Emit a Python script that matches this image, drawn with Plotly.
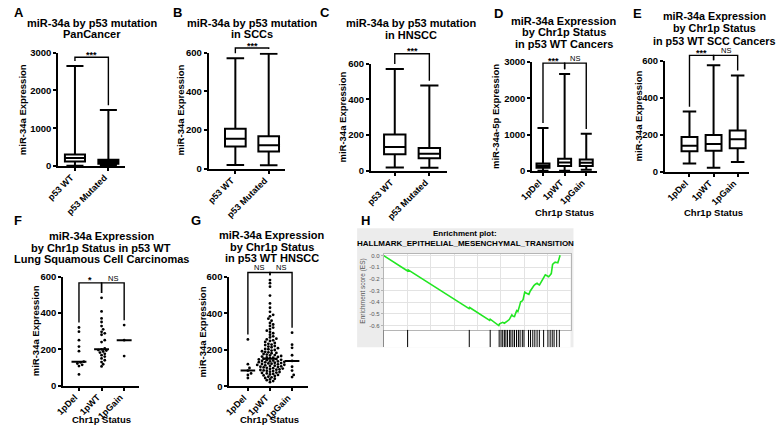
import numpy as np
import plotly.graph_objects as go

W, H = 778, 438
FONT = "Liberation Sans, Arial, Helvetica, sans-serif"

# ---------------- data ----------------
p53_groups = ["p53 WT", "p53 Mutated"]
chr1p_groups = ["1pDel", "1pWT", "1pGain"]

# box summaries: min, Q1, median, Q3, max
a_min = [5, 3]
a_q1 = [115, 55]
a_median = [210, 110]
a_q3 = [300, 165]
a_max = [2650, 1480]

b_min = [20, 18]
b_q1 = [115, 90]
b_median = [155, 122]
b_q3 = [207, 168]
b_max = [572, 595]

c_min = [18, 17]
c_q1 = [93, 70]
c_median = [133, 95]
c_q3 = [203, 127]
c_max = [570, 477]

d_min = [5, 5, 35]
d_q1 = [90, 140, 140]
d_median = [143, 232, 230]
d_q3 = [205, 340, 320]
d_max = [1185, 2670, 1025]

e_min = [44, 22, 52]
e_q1 = [110, 113, 127]
e_median = [140, 150, 175]
e_q3 = [188, 198, 223]
e_max = [325, 575, 520]

# individual samples (F: lung SCC, G: HNSCC)
f_1pdel = [320, 297, 250, 215, 190, 132, 128, 122, 115, 108, 62]
f_1pwt = [483, 408, 370, 350, 328, 310, 296, 288, 280, 250, 240, 205, 200,
          196, 193, 188, 182, 175, 168, 160, 150, 140, 130, 118, 106]
f_1pgain = [333, 250, 163]

g_1pdel = [257, 121, 100, 86, 70, 62, 45]
g_1pwt = [583, 566, 547, 498, 455, 431, 409, 392, 384, 371, 360, 348, 339, 331,
          322, 314, 305, 298, 291, 283, 274, 268, 261, 257, 252, 249, 243, 238,
          233, 229, 226, 221, 218, 214, 209, 205, 203, 199, 196, 192, 189, 186,
          183, 181, 177, 174, 171, 169, 166, 163, 161, 158, 157, 154, 151, 149,
          147, 145, 143, 141, 139, 137, 136, 134, 132, 131, 129, 127, 125, 124,
          122, 120, 118, 117, 115, 113, 111, 109, 107, 105, 103, 101, 99, 97,
          95, 93, 91, 89, 87, 85, 83, 80, 78, 75, 73, 70, 68, 65, 62, 59, 56,
          52, 49, 45, 41, 37, 33, 28, 22]
g_1pgain = [294, 228, 211, 170, 139, 107, 86, 62, 50]

yticks_3000 = [0, 1000, 2000, 3000]
yticks_600 = [0, 200, 400, 600]

# significance: (group i, group j, bracket level, label)
sig_a = [(0, 1, 2880, "***")]
sig_b = [(0, 1, 625, "***")]
sig_c = [(0, 1, 655, "***")]
sig_d = [(0, 1, 2970, "***"), (1, 2, 2970, "NS")]
sig_e = [(0, 1, 628, "***"), (1, 2, 628, "NS")]
sig_f = [(0, 1, 565, "*"), (1, 2, 565, "NS")]
sig_g = [(0, 1, 625, "NS"), (1, 2, 625, "NS")]

# GSEA enrichment plot (H)
es_x = [0.000, 0.128, 0.131, 0.457, 0.460, 0.567, 0.570, 0.616, 0.620, 0.630,
        0.637, 0.646, 0.655, 0.663, 0.672, 0.679, 0.686, 0.693, 0.700, 0.706,
        0.712, 0.718, 0.725, 0.729, 0.733, 0.740, 0.746, 0.751, 0.755, 0.762,
        0.769, 0.777, 0.784, 0.791, 0.797, 0.804, 0.812, 0.821, 0.827, 0.834,
        0.841, 0.848, 0.856, 0.865, 0.874, 0.883, 0.890, 0.897, 0.901, 0.904,
        0.911, 0.918, 0.925, 0.932, 0.938, 0.944]
es_y = [0.000, -0.132, -0.122, -0.455, -0.445, -0.555, -0.545, -0.600, -0.585,
        -0.578, -0.572, -0.580, -0.572, -0.560, -0.548, -0.528, -0.508, -0.520,
        -0.522, -0.495, -0.472, -0.480, -0.452, -0.420, -0.396, -0.390, -0.377,
        -0.340, -0.313, -0.320, -0.327, -0.332, -0.305, -0.285, -0.270, -0.257,
        -0.245, -0.237, -0.245, -0.251, -0.232, -0.215, -0.192, -0.165, -0.172,
        -0.181, -0.168, -0.154, -0.110, -0.075, -0.065, -0.056, -0.058, -0.061,
        -0.030, 0.003]
hit_x = [0.128, 0.458, 0.570, 0.618, 0.628, 0.637, 0.646, 0.654, 0.663, 0.674,
         0.681, 0.691, 0.700, 0.711, 0.721, 0.730, 0.742, 0.751, 0.775, 0.786,
         0.798, 0.809, 0.821, 0.833, 0.856, 0.879, 0.891, 0.902, 0.912, 0.926,
         0.940]
es_ticks = [0.0, -0.1, -0.2, -0.3, -0.4, -0.5, -0.6]

# ---------------- layout geometry (pixels) ----------------
panels = {
    "A": dict(n=1, x0=46, x1=114, top=48, bot=164, xr=(-0.5, 1.5), yr=(0, 3000)),
    "B": dict(n=2, x0=199, x1=277, top=48, bot=167, xr=(-0.8, 1.5), yr=(0, 600)),
    "C": dict(n=3, x0=364, x1=441, top=59, bot=169, xr=(-0.69, 1.5), yr=(0, 600)),
    "D": dict(n=4, x0=528, x1=594, top=57.5, bot=169.3, xr=(-0.5, 2.5), yr=(0, 3000)),
    "E": dict(n=5, x0=663, x1=748, top=56, bot=170, xr=(-1.02, 2.45), yr=(0, 600)),
    "F": dict(n=6, x0=51, x1=128, top=277.5, bot=389.5, xr=(-0.7, 2.65), yr=(0, 600)),
    "G": dict(n=7, x0=220, x1=300, top=278, bot=390, xr=(-0.84, 2.72), yr=(0, 600)),
}


def ax_names(n):
    s = "" if n == 1 else str(n)
    return "x" + s, "y" + s, "xaxis" + s, "yaxis" + s


def data2px(p, xv, yv):
    x = p["x0"] + (xv - p["xr"][0]) / (p["xr"][1] - p["xr"][0]) * (p["x1"] - p["x0"])
    y = p["bot"] - (yv - p["yr"][0]) / (p["yr"][1] - p["yr"][0]) * (p["bot"] - p["top"])
    return x, y


def ann(text, x, y, size, bold=True, angle=0, color="black", xanchor="center", yanchor="middle"):
    return dict(text=(f"<b>{text}</b>" if bold else text), x=x / W, y=1 - y / H,
                xref="paper", yref="paper", showarrow=False,
                font=dict(family=FONT, size=size, color=color), textangle=angle,
                xanchor=xanchor, yanchor=yanchor, borderpad=0)


def swarm(vals, pxx, pxy, d=2.7):
    vals = np.asarray(vals, dtype=float)
    order = np.argsort(vals)
    placed = []
    offs = np.zeros(len(vals))
    step = d * 0.6
    for i in order:
        y = vals[i] * pxy
        k = 0
        while True:
            cands = [0.0] if k == 0 else [k * step, -k * step]
            ok_c = None
            for c in cands:
                if all((c - px) ** 2 + (y - py) ** 2 >= d * d for px, py in placed):
                    ok_c = c
                    break
            if ok_c is not None:
                placed.append((ok_c, y))
                offs[i] = ok_c / pxx
                break
            k += 1
    return offs


fig = go.Figure()
layout = dict(width=W, height=H, margin=dict(l=0, r=0, t=0, b=0), autosize=False,
              paper_bgcolor="white", plot_bgcolor="white", showlegend=False)
shapes = []
annotations = []

# background of panel H first (below everything)
shapes.append(dict(type="rect", xref="paper", yref="paper", x0=350 / W, x1=570 / W,
                   y0=1 - 350 / H, y1=1 - 228 / H, fillcolor="#ececec",
                   line=dict(width=0), layer="below"))
shapes.append(dict(type="rect", xref="paper", yref="paper", x0=377 / W, x1=567 / W,
                   y0=1 - 350 / H, y1=1 - 254.3 / H, fillcolor="white",
                   line=dict(width=0), layer="below"))

box_data = {
    "A": (a_min, a_q1, a_median, a_q3, a_max, p53_groups, yticks_3000, 0.6, sig_a),
    "B": (b_min, b_q1, b_median, b_q3, b_max, p53_groups, yticks_600, 0.62, sig_b),
    "C": (c_min, c_q1, c_median, c_q3, c_max, p53_groups, yticks_600, 0.62, sig_c),
    "D": (d_min, d_q1, d_median, d_q3, d_max, chr1p_groups, yticks_3000, 0.6, sig_d),
    "E": (e_min, e_q1, e_median, e_q3, e_max, chr1p_groups, yticks_600, 0.66, sig_e),
}
dot_data = {
    "F": ([f_1pdel, f_1pwt, f_1pgain], chr1p_groups, yticks_600, sig_f),
    "G": ([g_1pdel, g_1pwt, g_1pgain], chr1p_groups, yticks_600, sig_g),
}


def set_axes(p, cats, yticks):
    xs, ys, xl, yl = ax_names(p["n"])
    layout[xl] = dict(domain=[p["x0"] / W, p["x1"] / W], range=list(p["xr"]), anchor=ys,
                      showline=True, linecolor="black", linewidth=2, ticks="outside",
                      ticklen=3, tickwidth=2, tickcolor="black",
                      tickvals=list(range(len(cats))), ticktext=cats, tickangle=-45,
                      ticklabelshift=-4, ticklabelstandoff=-2,
                      tickfont=dict(family=FONT, size=9, color="black", weight="bold"),
                      showgrid=False, zeroline=False, fixedrange=True)
    layout[yl] = dict(domain=[1 - p["bot"] / H, 1 - p["top"] / H], range=list(p["yr"]),
                      anchor=xs, showline=True, linecolor="black", linewidth=2,
                      ticks="outside", ticklen=3, tickwidth=2, tickcolor="black",
                      tickvals=yticks, ticktext=[str(t) for t in yticks],
                      tickfont=dict(family=FONT, size=9.5, color="black", weight="bold"),
                      showgrid=False, zeroline=False, fixedrange=True)
    return xs, ys


def add_sig(p, sigs, tops):
    for i, j, lev, lab in sigs:
        xi, yl_ = data2px(p, i, lev)
        xj, _ = data2px(p, j, lev)
        _, yi = data2px(p, i, tops[i])
        _, yj = data2px(p, j, tops[j])
        yi = max(yi - 5, yl_)
        yj = max(yj - 5, yl_)
        path = (f"M{xi / W},{1 - yi / H} L{xi / W},{1 - yl_ / H} "
                f"L{xj / W},{1 - yl_ / H} L{xj / W},{1 - yj / H}")
        shapes.append(dict(type="path", xref="paper", yref="paper", path=path,
                           line=dict(color="black", width=1.4)))
        xm = (xi + xj) / 2
        if "*" in lab:
            annotations.append(ann(lab, xm, yl_ - 2.5, 9, bold=True))
        else:
            annotations.append(ann(lab, xm, yl_ + 1, 7.5, bold=False, yanchor="bottom"))


for key, (mn, q1, med, q3, mx, cats, yt, bw, sigs) in box_data.items():
    p = panels[key]
    xs, ys = set_axes(p, cats, yt)
    fig.add_trace(go.Box(x=list(range(len(cats))), q1=q1, median=med, q3=q3,
                         lowerfence=mn, upperfence=mx, width=bw, whiskerwidth=0.85,
                         line=dict(color="black", width=2), fillcolor="white",
                         boxpoints=False, xaxis=xs, yaxis=ys, hoverinfo="skip"))
    add_sig(p, sigs, mx)

for key, (groups, cats, yt, sigs) in dot_data.items():
    p = panels[key]
    xs, ys = set_axes(p, cats, yt)
    pxx = (p["x1"] - p["x0"]) / (p["xr"][1] - p["xr"][0])
    pxy = (p["bot"] - p["top"]) / (p["yr"][1] - p["yr"][0])
    for gi, vals in enumerate(groups):
        offs = swarm(vals, pxx, pxy)
        fig.add_trace(go.Scatter(x=gi + offs, y=vals, mode="markers",
                                 marker=dict(color="black", size=2.8),
                                 xaxis=xs, yaxis=ys, hoverinfo="skip", cliponaxis=False))
        m = float(np.median(vals))
        fig.add_trace(go.Scatter(x=[gi - 0.33, gi + 0.33], y=[m, m], mode="lines",
                                 line=dict(color="black", width=2),
                                 xaxis=xs, yaxis=ys, hoverinfo="skip"))
    add_sig(p, sigs, [max(v) for v in groups])

# ---------------- panel H ----------------
layout["xaxis8"] = dict(domain=[377 / W, 567 / W], range=[0, 1], anchor="y8",
                        showgrid=True, gridcolor="#e3e3e3", gridwidth=1, tick0=0,
                        dtick=0.1255, showticklabels=False, ticks="", showline=True,
                        linecolor="#b5b5b5", linewidth=1, mirror=True, zeroline=False,
                        fixedrange=True)
layout["yaxis8"] = dict(domain=[1 - 332 / H, 1 - 254.3 / H], range=[-0.635, 0.015],
                        anchor="x8", tickvals=es_ticks,
                        ticktext=[f"{t:.1f}" for t in es_ticks],
                        tickfont=dict(family=FONT, size=6, color="#555555"),
                        showgrid=True, gridcolor="#e3e3e3", gridwidth=1, showline=True,
                        linecolor="#b5b5b5", linewidth=1, mirror=True, ticks="outside",
                        ticklen=2, tickcolor="#b5b5b5", zeroline=False, fixedrange=True)
layout["xaxis9"] = dict(domain=[377 / W, 567 / W], range=[0, 1], anchor="y9",
                        showgrid=False, showticklabels=False, ticks="", showline=False,
                        zeroline=False, fixedrange=True)
layout["yaxis9"] = dict(domain=[1 - 350 / H, 1 - 332 / H], range=[0, 1], anchor="x9",
                        showgrid=False, showticklabels=False, ticks="", showline=True,
                        linecolor="#8a8a8a", linewidth=1, zeroline=False, fixedrange=True)

fig.add_trace(go.Scatter(x=es_x, y=es_y, mode="lines",
                         line=dict(color="#22e622", width=1.6),
                         xaxis="x8", yaxis="y8", hoverinfo="skip"))
hx, hy = [], []
for h in hit_x:
    hx += [h, h, None]
    hy += [0, 1, None]
fig.add_trace(go.Scatter(x=hx, y=hy, mode="lines", line=dict(color="black", width=1),
                         xaxis="x9", yaxis="y9", hoverinfo="skip"))

# ---------------- text ----------------
titles = [
    (80, [17, 29], ["miR-34a by p53 mutation", "PanCancer"], 11),
    (243, [17, 29], ["miR-34a by p53 mutation", "in SCCs"], 11),
    (405, [17, 30], ["miR-34a by p53 mutation", "in HNSCC"], 11),
    (560, [15, 27, 39], ["miR-34a Expression", "by Chr1p Status", "in p53 WT Cancers"], 11),
    (713, [10, 23, 36], ["miR-34a Expression", "by Chr1p Status", "in p53 WT SCC Cancers"], 10.8),
    (90, [236, 248, 260], ["miR-34a Expression", "by Chr1p Status in p53 WT",
                           "Lung Squamous Cell Carcinomas"], 11),
    (263, [235, 247, 259], ["miR-34a Expression", "by Chr1p Status", "in p53 WT HNSCC"], 11),
]
for cx, ys_, lines, fs in titles:
    for yy, t in zip(ys_, lines):
        annotations.append(ann(t, cx, yy, fs))

annotations.append(ann("Enrichment plot:", 460, 233, 8))
annotations.append(ann("HALLMARK_EPITHELIAL_MESENCHYMAL_TRANSITION", 460, 244, 8))
annotations.append(ann("Enrichment score (ES)", 356, 293, 6.5, bold=False, angle=-90,
                       color="#555555"))

for lab, x, y in [("A", 6, 7), ("B", 167, 7), ("C", 317, 7), ("D", 494, 8),
                  ("E", 635, 8), ("F", 5, 220), ("G", 186, 220), ("H", 358, 220)]:
    annotations.append(ann(lab, x, y, 13))

for text, x, y in [("miR-34a Expression", 9, 106), ("miR-34a Expression", 170, 107),
                   ("miR-34a Expression", 335, 114), ("miR-34a-5p Expression", 490, 113),
                   ("miR-34a Expression", 636, 113), ("miR-34a Expression", 23, 333),
                   ("miR-34a Expression", 193, 334)]:
    annotations.append(ann(text, x, y, 9.5, angle=-90))

for x, y in [(561, 212), (712, 212), (90, 424), (261, 424)]:
    annotations.append(ann("Chr1p Status", x, y, 9.5))

layout["shapes"] = shapes
layout["annotations"] = annotations
fig.update_layout(**layout)
fig.write_html("out.html", config={"displayModeBar": False, "staticPlot": True},
               post_script="document.body.style.margin='0px';document.body.style.padding='0px';")
